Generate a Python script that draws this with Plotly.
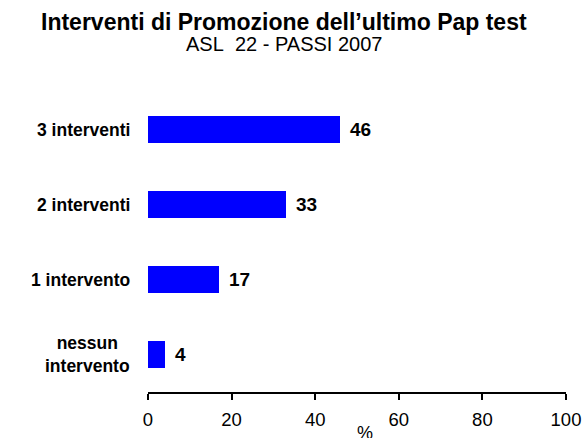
import plotly.graph_objects as go

categories = ["nessun<br>intervento", "1 intervento", "2 interventi", "3 interventi"]
values = [4, 17, 33, 46]
x_ticks = [0, 20, 40, 60, 80, 100]

FONT = "Liberation Sans, Arial, sans-serif"
BLACK = "#000000"

fig = go.Figure(
    go.Bar(
        x=values,
        y=list(range(len(categories))),
        orientation="h",
        width=0.35,
        marker=dict(color="#0000FF", line=dict(width=0)),
        hoverinfo="skip",
    )
)

# Category labels on the left, centred within each label block
for i, cat in enumerate(categories):
    fig.add_annotation(
        x=0, y=i, xref="x", yref="y", text=f"<b>{cat}</b>",
        showarrow=False, xanchor="right", yanchor="middle", align="center",
        xshift=-16, font=dict(family=FONT, size=17.5, color=BLACK),
    )

# Value labels just past the end of each bar
for i, v in enumerate(values):
    fig.add_annotation(
        x=v, y=i, xref="x", yref="y", text=f"<b>{v}</b>",
        showarrow=False, xanchor="left", yanchor="middle",
        xshift=8, font=dict(family=FONT, size=19, color=BLACK),
    )

# Title and subtitle
TITLE_X = (284 - 148) / 418
fig.add_annotation(
    x=TITLE_X, y=1, xref="paper", yref="paper", yshift=70,
    text="<b>Interventi di Promozione dell’ultimo Pap test</b>",
    showarrow=False, xanchor="center", yanchor="middle",
    font=dict(family=FONT, size=23, color=BLACK),
)
fig.add_annotation(
    x=TITLE_X, y=1, xref="paper", yref="paper", yshift=48,
    text="ASL\u00a0 22 - PASSI 2007",
    showarrow=False, xanchor="center", yanchor="middle",
    font=dict(family=FONT, size=20, color=BLACK),
)

# Axis unit label
fig.add_annotation(
    x=52, y=0, xref="x", yref="paper", yshift=-41,
    text="%", showarrow=False, xanchor="center", yanchor="middle",
    font=dict(family=FONT, size=18, color=BLACK),
)

fig.update_layout(
    width=585, height=438,
    margin=dict(l=148, r=19, t=92, b=46, pad=0),
    paper_bgcolor="white", plot_bgcolor="white",
    showlegend=False,
    bargap=0,
    xaxis=dict(
        range=[0, 100], tickvals=x_ticks, ticktext=[str(t) for t in x_ticks],
        showgrid=False, zeroline=False, automargin=False,
        showline=True, linecolor=BLACK, linewidth=2,
        ticks="outside", ticklen=6, tickwidth=2, tickcolor=BLACK,
        ticklabelstandoff=4,
        tickfont=dict(family=FONT, size=18.5, color=BLACK),
        fixedrange=True,
    ),
    yaxis=dict(
        range=[-0.5, 3.5], showticklabels=False, showgrid=False,
        zeroline=False, showline=False, ticks="", fixedrange=True,
    ),
)

fig.write_html("out.html")
